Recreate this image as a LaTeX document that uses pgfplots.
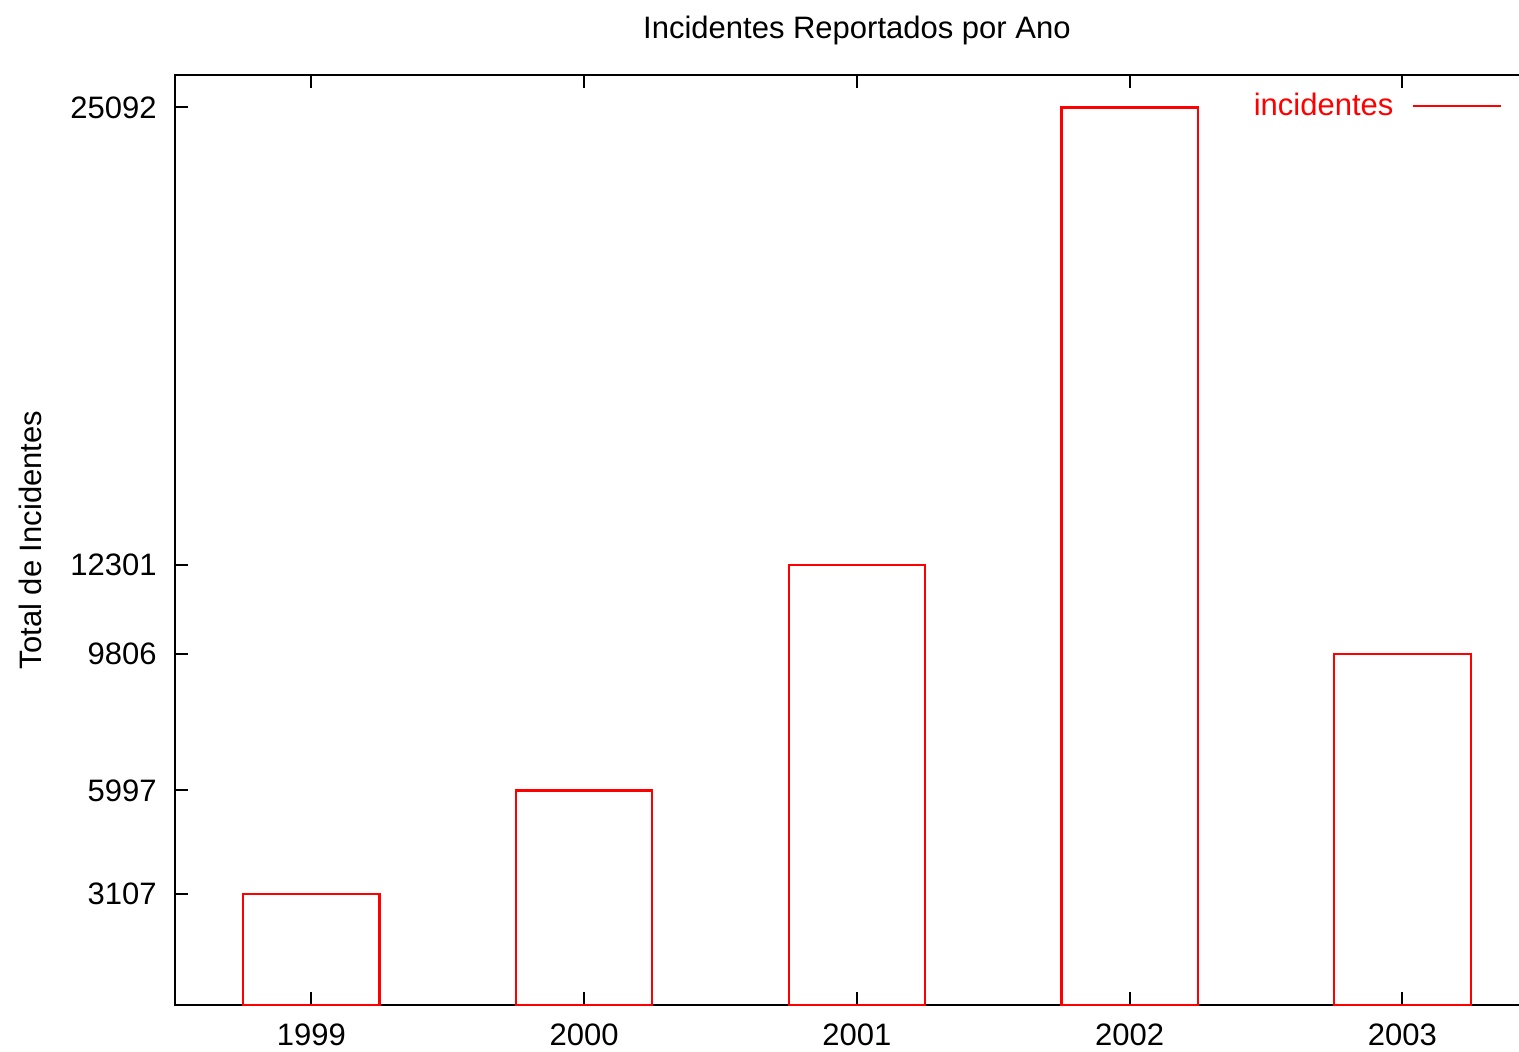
\documentclass[border=0pt]{standalone}
\usepackage{pgfplots}
\pgfplotsset{compat=1.18}
\usepackage{fontspec}
\setmainfont{Liberation Sans}

\begin{document}
\begin{tikzpicture}
  \begin{axis}[
    scale only axis,
    width=681.9pt, height=465pt,
    xmin=1998.5, xmax=2003.5,
    ymin=0, ymax=26000,
    xtick={1999,2000,2001,2002,2003},
    ytick={3107,5997,9806,12301,25092},
    scaled y ticks=false,
    /pgf/number format/1000 sep={},
    /pgf/number format/assume math mode=true,
    font=\fontsize{15.5pt}{18pt}\selectfont,
    axis line style={black, line width=1pt},
    tick style={black, line width=1pt},
    tick align=inside,
    major tick length=6.5pt,
    xtick pos=both, ytick pos=both,
    xticklabel style={anchor=center, yshift=-15pt, inner sep=0pt},
    yticklabel style={anchor=east, xshift=-9pt, inner sep=0pt},
    title={Incidentes Reportados por Ano},
    title style={at={(0.5,1)}, anchor=center, yshift=16.5pt, inner sep=0pt},
    ylabel={Total de Incidentes},
    every axis y label/.style={at={(axis description cs:0,0.5)}, xshift=-72.5pt, rotate=90, anchor=center},
    legend plot pos=right,
    legend style={at={(0.973,0.9667)}, anchor=east, draw=none, fill=none,
      inner sep=0pt, text=red, font=\fontsize{15.5pt}{18pt}\selectfont,
      /tikz/every odd column/.append style={column sep=7pt}},
    legend image code/.code={\draw[red, line width=1.1pt] (0pt,0pt) -- (44pt,0pt);},
  ]
    \addplot [ybar, bar width=0.5, draw=red, fill=none, line width=1.1pt]
      coordinates {(1999,3107) (2000,5997) (2001,12301) (2002,25092) (2003,9806)};
    \addlegendentry{incidentes}
  \end{axis}
  \pgfresetboundingbox
  \useasboundingbox (-87.5pt,-23pt) rectangle (672pt,502.5pt);
\end{tikzpicture}
\end{document}
